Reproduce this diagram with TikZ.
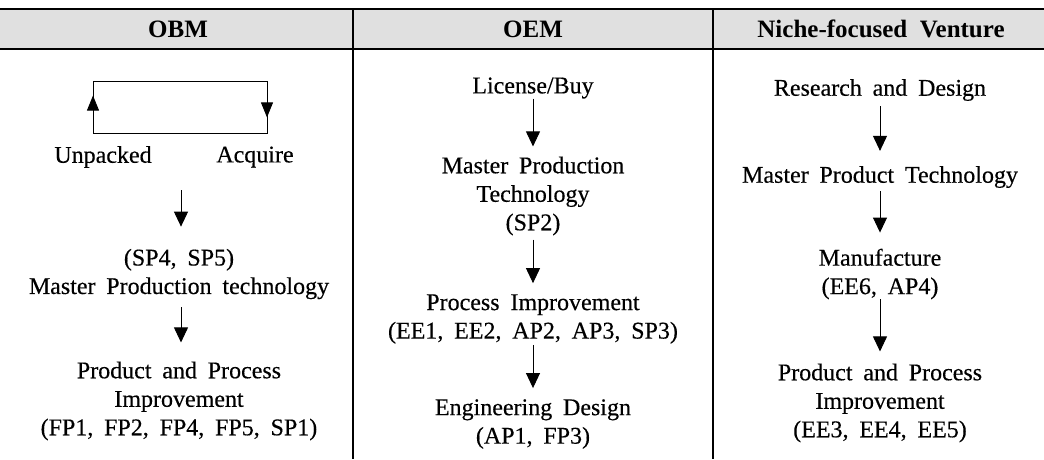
\documentclass[tikz,border=0pt]{standalone}
\usepackage{fontspec}
\setmainfont{Liberation Serif}
\newfontfamily\inkrm{Liberation Serif}[FakeBold=0.35]
\usetikzlibrary{arrows.meta,calc}
\newcommand\bodyfnt{\inkrm\fontsize{24}{28.5}\selectfont\spaceskip=0.45em plus 0.1em\relax}
\newcommand\headfnt{\fontsize{25}{28}\selectfont\bfseries\spaceskip=0.5em\relax}
\begin{document}
\begin{tikzpicture}[x=1pt,y=-1pt,
  lbl/.style={font=\bodyfnt, align=center, inner sep=0pt},
  head/.style={font=\headfnt, inner sep=0pt},
  flow/.style={line width=0.9pt, -{Triangle[width=14pt,length=15pt]}},
  loopline/.style={line width=0.9pt},
  rule/.style={line width=2.4pt}]
  \useasboundingbox (0,0) rectangle (1044,459);
  % header band
  \fill[gray!24] (0,9) rectangle (1044,49);
  \draw[rule] (0,9) -- (1044,9);
  \draw[line width=1.6pt] (0,49) -- (1044,49);
  \draw[line width=1.3pt] (353,9) -- (353,459);
  \draw[line width=1.3pt] (713,9) -- (713,459);
  \node[head] (h1) at (178,29) {OBM};
  \node[head] (h2) at (533,29) {OEM};
  \node[head] (h3) at (881,29) {Niche-focused Venture};

  % OBM column: acquire / unpack loop
  \coordinate (lpbl) at (93,133);
  \coordinate (lptl) at (93,81);
  \coordinate (lptr) at (267,81);
  \coordinate (lpbr) at (267,133);
  \draw[loopline] (lpbl) -- (lptl) -- (lptr) -- (lpbr) -- cycle;
  \draw[line width=0.9pt, -{Triangle[width=12pt,length=15pt]}] (lpbl) -- ($(lpbl)!0.72!(lptl)$);
  \draw[line width=0.9pt, -{Triangle[width=12pt,length=15pt]}] (lptr) -- ($(lptr)!0.70!(lpbr)$);
  \node[lbl] (unp) at (103,157) {Unpacked};
  \node[lbl] (acq) at (255,157) {Acquire};
  \coordinate (obmstart) at (181,190);
  \node[lbl] (mpt) at (179,274) {(SP4, SP5)\\Master Production technology};
  \node[lbl] (ppi) at (179,401) {Product and Process\\Improvement\\(FP1, FP2, FP4, FP5, SP1)};
  \draw[flow, shorten >=22pt] (obmstart) -- (obmstart |- mpt.north);
  \draw[flow, shorten >=19pt] ([yshift=-8pt]mpt.south -| obmstart) -- (obmstart |- ppi.north);

  % OEM column
  \node[lbl] (lic) at (533,88) {License/Buy};
  \node[lbl] (mpt2) at (533,196) {Master Production\\Technology\\(SP2)};
  \node[lbl] (pi) at (533,319) {Process Improvement\\(EE1, EE2, AP2, AP3, SP3)};
  \node[lbl] (ed) at (533,424) {Engineering Design\\(AP1, FP3)};
  \draw[flow, shorten >=10pt] (lic.south) -- (mpt2.north);
  \draw[flow, shorten <=4pt, shorten >=11pt] (mpt2.south) -- (pi.north);
  \draw[flow, shorten <=1pt, shorten >=11pt] (pi.south) -- (ed.north);

  % Niche-focused venture column
  \node[lbl] (rd) at (880,90) {Research and Design};
  \node[lbl] (mpt3) at (880,177) {Master Product Technology};
  \node[lbl] (man) at (880,274) {Manufacture\\(EE6, AP4)};
  \node[lbl] (ppi3) at (880,403) {Product and Process\\Improvement\\(EE3, EE4, EE5)};
  \draw[flow, shorten <=5pt, shorten >=15pt] (rd.south) -- (mpt3.north);
  \draw[flow, shorten <=3pt, shorten >=16pt] (mpt3.south) -- (man.north);
  \draw[flow, shorten >=12pt] (man.south) -- (ppi3.north);
\end{tikzpicture}
\end{document}
